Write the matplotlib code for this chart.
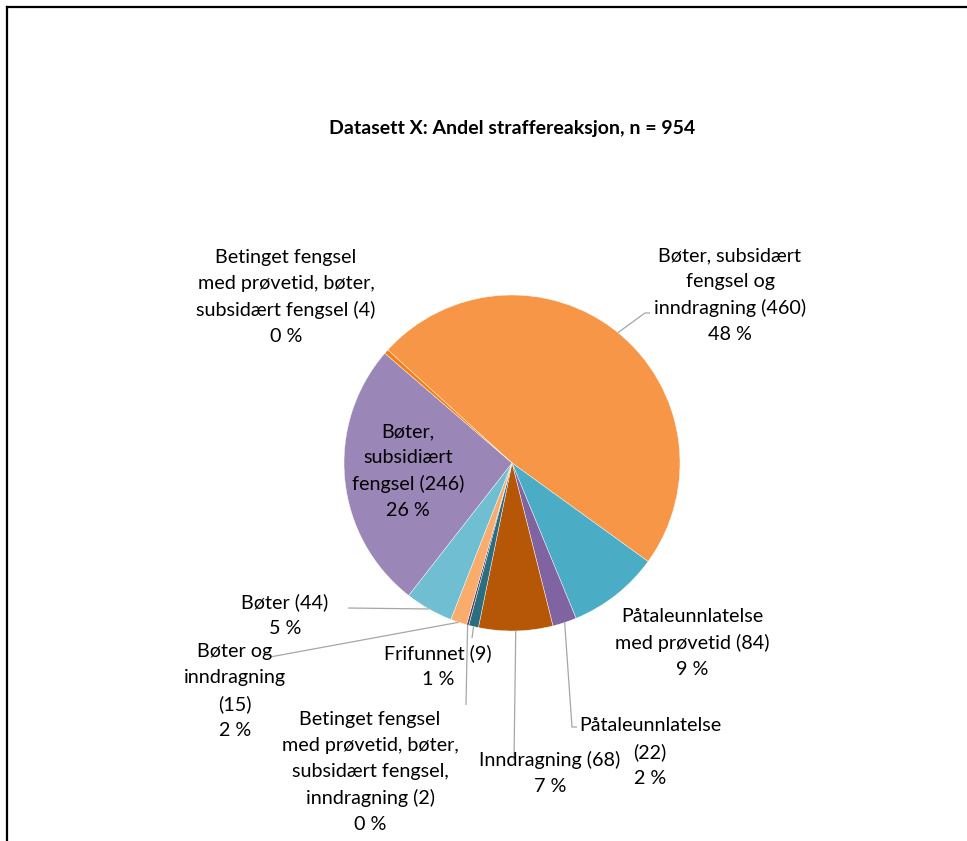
import numpy as np
import matplotlib
matplotlib.use("Agg")
import matplotlib.pyplot as plt
from matplotlib.lines import Line2D

# ---------------- data ----------------
title = "Datasett X: Andel straffereaksjon, n = 954"
categories = [
    "Bøter, subsidært\nfengsel og\ninndragning",
    "Påtaleunnlatelse\nmed prøvetid",
    "Påtaleunnlatelse\n",
    "Inndragning",
    "Frifunnet",
    "Betinget fengsel\nmed prøvetid, bøter,\nsubsidært fengsel,\ninndragning",
    "Bøter og\ninndragning\n",
    "Bøter",
    "Bøter,\nsubsidiært\nfengsel",
    "Betinget fengsel\nmed prøvetid, bøter,\nsubsidært fengsel",
]
counts = [460, 84, 22, 68, 9, 2, 15, 44, 246, 4]
colors = ["#F79646", "#4BACC6", "#8064A2", "#B65708", "#2A6E80",
          "#4A3A63", "#F9AC6C", "#6FBED1", "#9B86B8", "#F47F12"]

# ---------------- layout (pixel coordinates, y measured from top) ----------------
W, H = 967, 841
center_px = (512, 463)
radius_px = 168
start_deg = 137.7
# label centre positions
label_pos = [(730, 295), (692, 643), (650, 752), (550, 773), (438, 666),
             (370, 772), (235, 691), (285, 615), (408, 471), (286, 297)]
# leader end points (None = no leader); optional elbow end
leader_end = [[(645, 313), (650, 313)],
              None,
              [(572, 727), (577, 727)],
              [(514, 760)],
              [(472, 638)],
              [(466, 705)],
              [(270, 657)],
              [(348, 608)],
              None,
              None]

FONT = "Lato"
fs = 14.2
line_px = 26.3

fig = plt.figure(figsize=(W / 100, H / 100), dpi=100)
ax = fig.add_axes([0, 0, 1, 1])
ax.set_xlim(0, W)
ax.set_ylim(0, H)
ax.set_aspect("equal")
ax.axis("off")


def Y(py):
    return H - py


wedges, _ = ax.pie(counts, colors=colors, startangle=start_deg, counterclock=False,
                   center=(center_px[0], Y(center_px[1])), radius=radius_px,
                   wedgeprops=dict(edgecolor="white", linewidth=0.3))
ax.set_xlim(0, W)
ax.set_ylim(0, H)

total = sum(counts)
for i, (w, cat, n) in enumerate(zip(wedges, categories, counts)):
    pct = round(100 * n / total)
    name = cat
    if name.endswith("\n"):
        txt = f"{name}({n})\n{pct} %"
    else:
        txt = f"{name} ({n})\n{pct} %"
    lines = txt.split("\n")
    lx, ly = label_pos[i]
    nl = len(lines)
    for k, ln in enumerate(lines):
        yy = ly + (k - (nl - 1) / 2) * line_px
        ax.text(lx, Y(yy), ln, ha="center", va="center", fontsize=fs,
                family=FONT, color="#000000")
    if leader_end[i] is not None:
        mid = np.deg2rad((w.theta1 + w.theta2) / 2)
        sx = center_px[0] + radius_px * np.cos(mid)
        sy = Y(center_px[1]) + radius_px * np.sin(mid)
        xs = [sx] + [p[0] for p in leader_end[i]]
        ys = [sy] + [Y(p[1]) for p in leader_end[i]]
        ax.plot(xs, ys, color="#A6A6A6", linewidth=0.9, solid_capstyle="butt")

ax.text(512, Y(128), title, ha="center", va="center", fontsize=14,
        fontweight="bold", family=FONT, color="#000000")

# chart frame (left and top edges visible)
fig.add_artist(Line2D([7 / W, 7 / W], [0, 1 - 7 / H], transform=fig.transFigure,
                      color="#000000", linewidth=1.6))
fig.add_artist(Line2D([7 / W, 1], [1 - 7 / H, 1 - 7 / H], transform=fig.transFigure,
                      color="#000000", linewidth=1.6))

fig.savefig("out.png", dpi=100, facecolor="white")
